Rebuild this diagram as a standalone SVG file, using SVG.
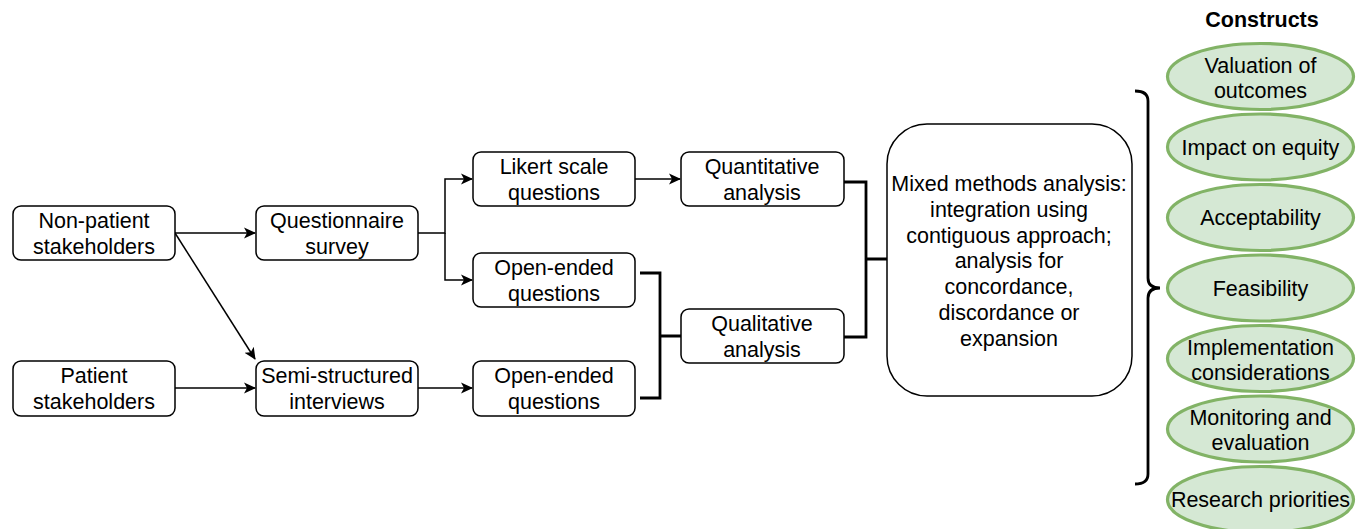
<svg xmlns="http://www.w3.org/2000/svg" width="1364" height="529" viewBox="0 0 1364 529">
<defs>
<marker id="arr" markerUnits="userSpaceOnUse" markerWidth="12" markerHeight="12" viewBox="0 0 12 12" refX="11" refY="6" orient="auto">
<path d="M0,0.5 L12,6 L0,11.5 L3,6 Z" fill="#000"/>
</marker>
<style>
.box{fill:#fff;stroke:#000;stroke-width:1.5}
.t{font-family:"Liberation Sans",Arial,sans-serif;font-size:21.5px;fill:#000;text-anchor:middle}
.c{fill:none;stroke:#000;stroke-width:1.5}
.thick{fill:none;stroke:#000;stroke-width:2.8}
.ell{fill:#d5e8d4;stroke:#82b366;stroke-width:3.2}
</style>
</defs>
<rect width="1364" height="529" fill="#fff"/>
<g id="connectors">
<path class="c" d="M175,233 H255" marker-end="url(#arr)"/>
<path class="c" d="M175,233 L255,359" marker-end="url(#arr)"/>
<path class="c" d="M175,388 H255" marker-end="url(#arr)"/>
<path class="c" d="M418,233 H445 V179 H472" marker-end="url(#arr)"/>
<path class="c" d="M445,233 V280 H472" marker-end="url(#arr)"/>
<path class="c" d="M418,388 H472" marker-end="url(#arr)"/>
<path class="c" d="M635,179 H680" marker-end="url(#arr)"/>
<path class="thick" d="M640,273 H660 V398 H640 M660,336 H681"/>
<path class="thick" d="M844,182 H866 V337 H844 M866,259 H887"/>
<path class="thick" d="M1135,91 Q1148,91 1148,101 V278 Q1148,288 1160,288 Q1148,288 1148,298 V474 Q1148,484 1135,484"/>
</g>
<g id="non-patient"><rect class="box" x="13" y="206" width="162" height="54" rx="8"/><text class="t" x="94" y="228">Non-patient</text><text class="t" x="94" y="254">stakeholders</text></g>
<g id="patient"><rect class="box" x="13" y="361" width="162" height="55" rx="8"/><text class="t" x="94" y="383">Patient</text><text class="t" x="94" y="409">stakeholders</text></g>
<g id="questionnaire"><rect class="box" x="256" y="206" width="162" height="54" rx="8"/><text class="t" x="337" y="228">Questionnaire</text><text class="t" x="337" y="254">survey</text></g>
<g id="semi"><rect class="box" x="256" y="361" width="162" height="55" rx="8"/><text class="t" x="337" y="383">Semi-structured</text><text class="t" x="337" y="409">interviews</text></g>
<g id="likert"><rect class="box" x="473" y="152" width="162" height="54" rx="8"/><text class="t" x="554" y="174">Likert scale</text><text class="t" x="554" y="200">questions</text></g>
<g id="open1"><rect class="box" x="473" y="253" width="162" height="54" rx="8"/><text class="t" x="554" y="275">Open-ended</text><text class="t" x="554" y="301">questions</text></g>
<g id="open2"><rect class="box" x="473" y="361" width="162" height="55" rx="8"/><text class="t" x="554" y="383">Open-ended</text><text class="t" x="554" y="409">questions</text></g>
<g id="quant"><rect class="box" x="681" y="152" width="163" height="54" rx="8"/><text class="t" x="762" y="174">Quantitative</text><text class="t" x="762" y="200">analysis</text></g>
<g id="qual"><rect class="box" x="681" y="309" width="163" height="54" rx="8"/><text class="t" x="762" y="331">Qualitative</text><text class="t" x="762" y="357">analysis</text></g>
<g id="mixed"><rect class="box" x="887" y="124" width="245" height="272" rx="40"/>
<text class="t" x="1009" y="191">Mixed methods analysis:</text>
<text class="t" x="1009" y="217">integration using</text>
<text class="t" x="1009" y="243">contiguous approach;</text>
<text class="t" x="1009" y="268">analysis for</text>
<text class="t" x="1009" y="294">concordance,</text>
<text class="t" x="1009" y="320">discordance or</text>
<text class="t" x="1009" y="346">expansion</text>
</g>
<g id="constructs-title"><text class="t" x="1262" y="27" font-weight="bold" font-size="19">Constructs</text></g>
<g id="c1"><ellipse class="ell" cx="1260.5" cy="76.5" rx="93" ry="33"/><text class="t" x="1260.5" y="73">Valuation of</text><text class="t" x="1260.5" y="98">outcomes</text></g>
<g id="c2"><ellipse class="ell" cx="1260.5" cy="147" rx="93" ry="33"/><text class="t" x="1260.5" y="155">Impact on equity</text></g>
<g id="c3"><ellipse class="ell" cx="1260.5" cy="217.5" rx="93" ry="33"/><text class="t" x="1260.5" y="225">Acceptability</text></g>
<g id="c4"><ellipse class="ell" cx="1260.5" cy="288" rx="93" ry="33"/><text class="t" x="1260.5" y="296">Feasibility</text></g>
<g id="c5"><ellipse class="ell" cx="1260.5" cy="358.5" rx="93" ry="33"/><text class="t" x="1260.5" y="355">Implementation</text><text class="t" x="1260.5" y="380">considerations</text></g>
<g id="c6"><ellipse class="ell" cx="1260.5" cy="429" rx="93" ry="33"/><text class="t" x="1260.5" y="425">Monitoring and</text><text class="t" x="1260.5" y="450">evaluation</text></g>
<g id="c7"><ellipse class="ell" cx="1260.5" cy="499.5" rx="93" ry="33"/><text class="t" x="1260.5" y="507">Research priorities</text></g>
</svg>
